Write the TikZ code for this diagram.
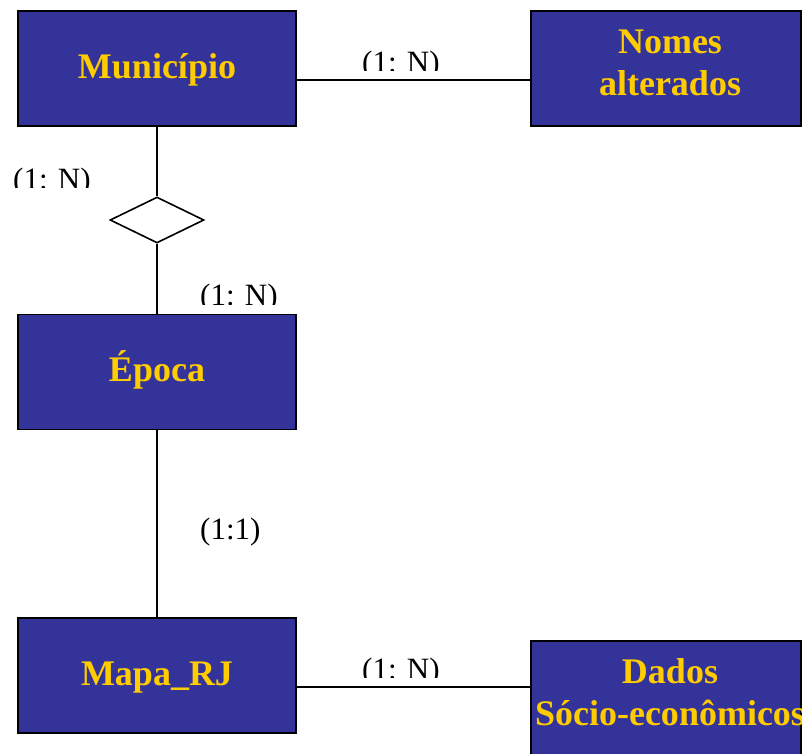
\documentclass[tikz,border=0pt]{standalone}
\usepackage{fontspec}
\setmainfont{Liberation Serif}
\usetikzlibrary{shapes.geometric}
\definecolor{boxblue}{RGB}{51,51,153}
\definecolor{boxgold}{RGB}{255,204,0}
\newcommand{\rline}[1]{\hspace*{8pt}#1}
\begin{document}
\begin{tikzpicture}[x=1pt,y=-1pt,
 entity/.style={draw=black, line width=1.6pt, fill=boxblue, text=boxgold,
   font=\fontsize{36}{42}\selectfont\bfseries, inner sep=0pt,
   minimum width=278pt, minimum height=115pt, text height=25pt, text depth=6pt},
 entity2/.style={entity, align=center, minimum width=270pt, text height=60pt, text depth=7pt},
 card/.style={font=\fontsize{31}{36}\selectfont, inner sep=0pt, anchor=base west},
 rel/.style={diamond, draw=black, line width=1.6pt, fill=white, inner sep=0pt,
   minimum width=94pt, minimum height=46pt},
 link/.style={line width=1.6pt}]
\useasboundingbox (0,0) rectangle (802,753);
\clip (0,0) rectangle (802,753);
% entities
\node[entity] (mun) at (157,68.5) {Município};
\node[entity2] (nomes) at (666,68.5) {\rline{Nomes}\\\rline{alterados}};
\node[rel] (r1) at (157,220) {};
\node[entity] (epoca) at (157,372) {Época};
\node[entity] (mapa) at (157,675.5) {Mapa\_RJ};
\node[entity2] (dados) at (666,698.5) {\rline{Dados}\\\rline{\makebox[240pt]{Sócio-econômicos}}};
% connectors
\coordinate (munR) at ([yshift=-11.5pt]mun.east);
\draw[link] (munR) -- (munR -| nomes.west);
\draw[link] (mun) -- (r1);
\draw[link] (r1) -- (epoca);
\draw[link] (epoca) -- (mapa);
\coordinate (mapaR) at ([yshift=-11.5pt]mapa.east);
\draw[link] (mapaR) -- (mapaR -| dados.west);
% cardinalities (clipped at their baselines as in the reference)
\begin{scope}
 \clip (350,40) rectangle (450,70.5);
 \node[card] (c1) at (362,72) {(1: N)};
\end{scope}
\begin{scope}
 \clip (5,150) rectangle (100,187);
 \node[card] (c2) at (13,189) {(1: N)};
\end{scope}
\begin{scope}
 \clip (190,270) rectangle (290,304);
 \node[card] (c3) at (200,305) {(1: N)};
\end{scope}
\node[card] (c4) at (200,539) {(1:1)};
\begin{scope}
 \clip (350,640) rectangle (450,677);
 \node[card] (c5) at (362,679) {(1: N)};
\end{scope}
\end{tikzpicture}
\end{document}
